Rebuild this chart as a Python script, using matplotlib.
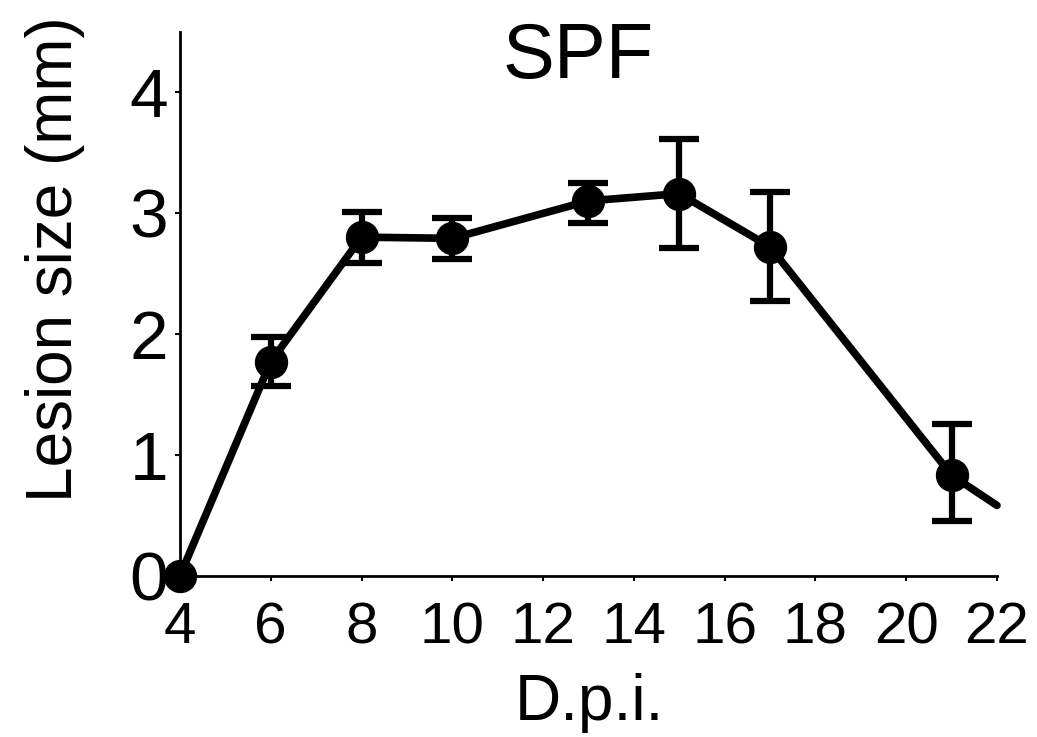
import matplotlib
matplotlib.use('Agg')
import matplotlib.pyplot as plt
import numpy as np

# lesion size over days post infection (SPF mice)
dpi_days = [4, 6, 8, 10, 13, 15, 17, 21]
lesion_mm = [0.0, 1.77, 2.80, 2.79, 3.10, 3.16, 2.72, 0.83]
err_low = [0.0, 1.57, 2.59, 2.62, 2.92, 2.71, 2.27, 0.45]
err_high = [0.0, 1.97, 3.01, 2.96, 3.25, 3.61, 3.17, 1.25]
# the line runs on past the last point and is cut at the axis end
tail_day = 22
tail_mm = 0.58

x_ticks = [4, 6, 8, 10, 12, 14, 16, 18, 20, 22]
y_ticks = [0, 1, 2, 3, 4]

plt.rcParams['font.family'] = ['Liberation Sans', 'DejaVu Sans']

fig = plt.figure(figsize=(10.37, 7.37), dpi=100)
ax = fig.add_axes([0.1736, 0.2191, 0.7878, 0.7379])

x = np.array(dpi_days)
y = np.array(lesion_mm)
lo = y - np.array(err_low)
hi = np.array(err_high) - y

ax.plot(list(dpi_days) + [tail_day], list(lesion_mm) + [tail_mm],
        color='black', lw=5.5, solid_capstyle='round',
        solid_joinstyle='round', clip_on=False, zorder=2)
ax.errorbar(x[1:], y[1:], yerr=[lo[1:], hi[1:]], fmt='none',
            ecolor='black', elinewidth=4.5, capsize=14.5, capthick=4.5,
            clip_on=False, zorder=3)
ax.plot(x, y, 'o', color='black', ms=23, clip_on=False, zorder=4)

ax.set_xlim(4, 22)
ax.set_ylim(0, 4.5)
ax.set_xticks(x_ticks)
ax.set_yticks(y_ticks)

for side in ['top', 'right']:
    ax.spines[side].set_visible(False)
for side in ['left', 'bottom']:
    ax.spines[side].set_linewidth(2)

ax.tick_params(axis='x', direction='out', length=3.5, width=1.5,
               labelsize=42, pad=15)
ax.tick_params(axis='y', direction='out', length=3.5, width=1.5,
               labelsize=50, pad=5)

fig.text(578 / 1037, 1 - 78 / 737, 'SPF', fontsize=56,
         ha='center', va='baseline')
fig.text(589 / 1037, 1 - 720 / 737, 'D.p.i.', fontsize=46,
         ha='center', va='baseline')
fig.text(72 / 1037, 1 - 259 / 737, 'Lesion size (mm)', fontsize=46,
         rotation=90, rotation_mode='anchor', ha='center', va='baseline')

fig.savefig('out.png', dpi=100)
